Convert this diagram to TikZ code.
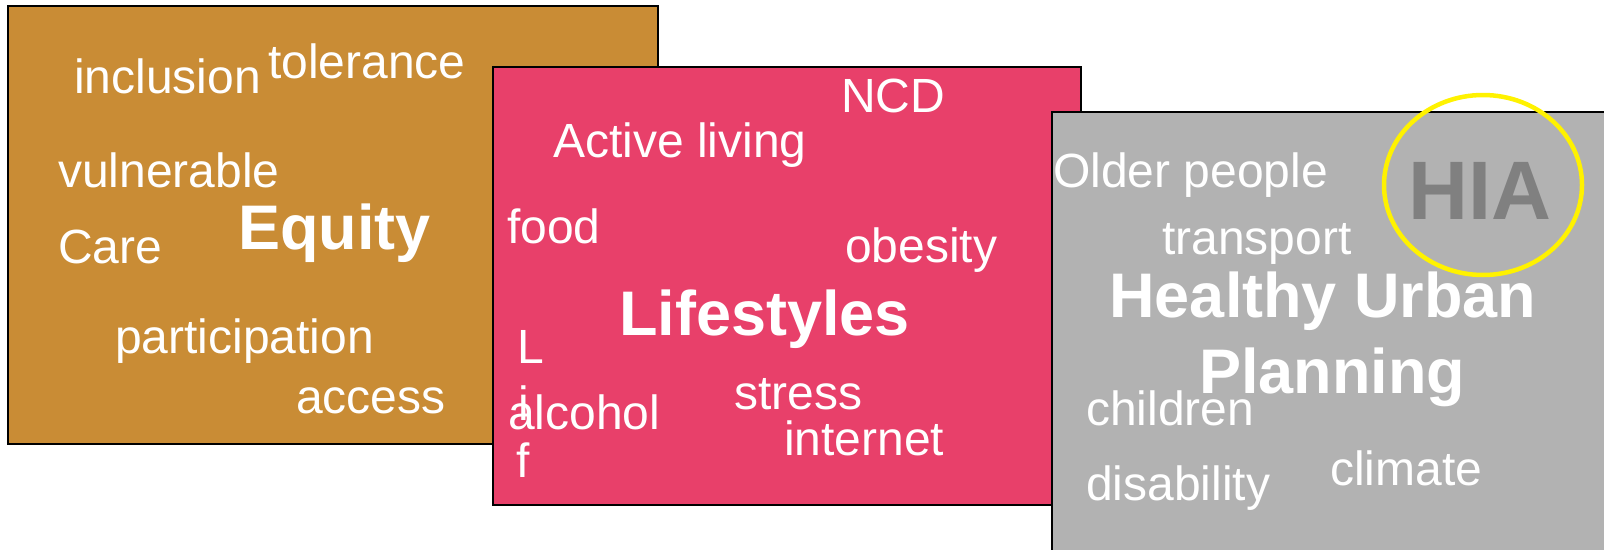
\documentclass[tikz,border=0pt]{standalone}
\usepackage{fontspec}
\setmainfont{Liberation Sans}
\usetikzlibrary{shapes,positioning}

\definecolor{equitycol}{RGB}{201,140,53}
\definecolor{lifecol}{RGB}{232,64,106}
\definecolor{urbancol}{RGB}{178,178,178}
\definecolor{hiacol}{RGB}{128,128,128}

\tikzset{
  panel/.style={draw=black, line width=1.5pt},
  word/.style={text=white, anchor=base west, inner sep=0pt,
    font=\fontsize{48}{56}\selectfont},
  title/.style={word, font=\bfseries\fontsize{63}{76}\selectfont},
}

\begin{document}
\begin{tikzpicture}[x=1pt,y=-1pt]
  \useasboundingbox (0,0) rectangle (1604,549);
  \clip (0,0) rectangle (1604,549);

  %equity
  \filldraw[panel, fill=equitycol] (8,6) rectangle (658,444);
  \node[word] (inclusion) at (74,93) {inclusion};
  \node[word] (tolerance) at (268,78) {tolerance};
  \node[word] (vulnerable) at (58,187) {vulnerable};
  \node[word] (care) at (58,263) {Care};
  \node[title] (equity) at (238,249) {Equity};
  \node[word] (participation) at (115,353) {participation};
  \node[word] (access) at (296,413) {access};

  %lifestyles
  \filldraw[panel, fill=lifecol] (493,67) rectangle (1081,505);
  \node[word] (ncd) at (841,112) {NCD};
  \node[word] (active) at (553,157) {Active living};
  \node[word] (food) at (507,243) {food};
  \node[word] (obesity) at (845,262) {obesity};
  \node[title] (lifestyles) at (619,335) {Lifestyles};
  \node[word] (alcohol) at (508,429) {alcohol};
  \node[word] (stress) at (734,409) {stress};
  \node[word] (internet) at (784,455) {internet};
  % vertical
  \node[word] (vL) at (517,363) {L};
  \node[word] (vi) at (518,420) {i};
  \node[word] (vf) at (516,477) {f};

  %urban planning
  \filldraw[panel, fill=urbancol] (1052,112) rectangle (1620,570);
  \node[word] (older) at (1053,187) {Older people};
  \node[word] (transport) at (1162,254) {transport};
  \node[title, anchor=base] (healthy) at (1323,317) {Healthy Urban};
  \node[title, anchor=base] (planning) at (1332,393) {Planning};
  \node[word] (children) at (1086,425) {children};
  \node[word] (disability) at (1086,500) {disability};
  \node[word] (climate) at (1330,485) {climate};

  \node[title, text=hiacol, font=\bfseries\fontsize{83}{90}\selectfont] (hia) at (1408,219) {HIA};
  \draw[yellow, line width=4.5pt] (1483,185) ellipse [x radius=99, y radius=90];
\end{tikzpicture}
\end{document}
